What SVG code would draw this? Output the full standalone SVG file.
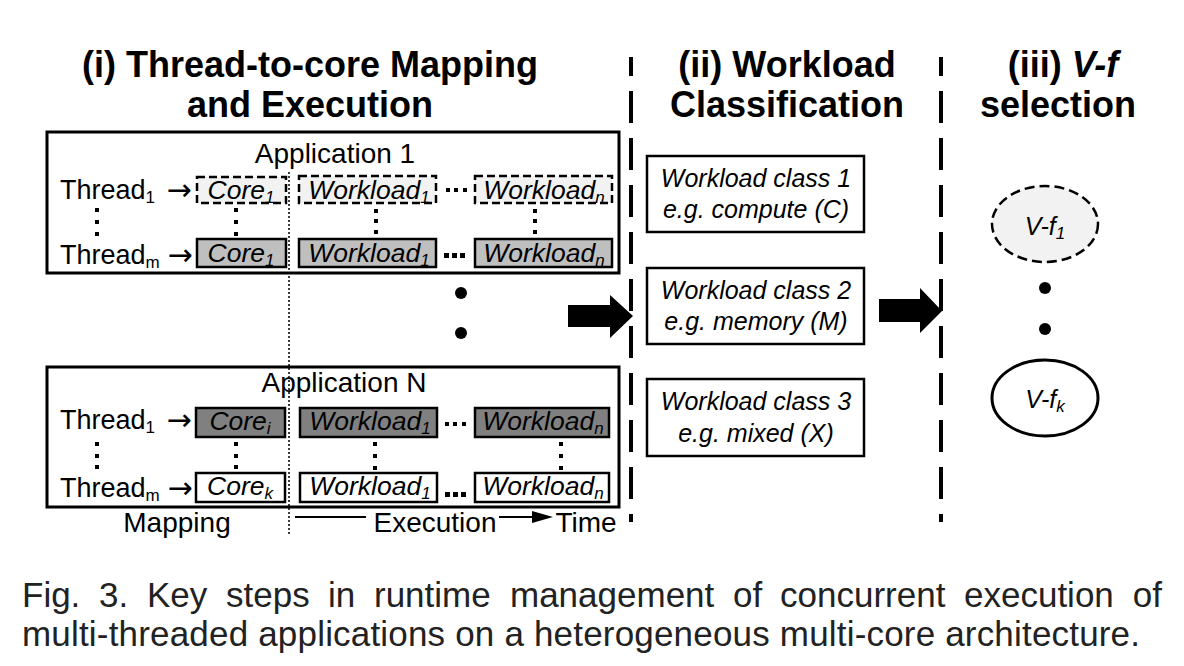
<svg xmlns="http://www.w3.org/2000/svg" width="1184" height="666" viewBox="0 0 1184 666">
<style>
text{font-family:"Liberation Sans",Arial,sans-serif;fill:#000}
.title{font-size:36px;font-weight:bold;text-anchor:middle}
.lbl{font-size:27px}
.arr{font-family:"DejaVu Sans",sans-serif;font-size:30px;text-anchor:middle}
.ax{font-size:28px;text-anchor:middle}
.app{font-size:28px;text-anchor:middle}
.it{font-size:26.5px;font-style:italic;text-anchor:middle}
.ct{font-size:25px;font-style:italic;text-anchor:middle}
.cap{font-size:35px;fill:#222}
.sub{font-size:17px}
.appbox{fill:#fff;stroke:#000;stroke-width:3}
.dash{fill:#f2f2f2;stroke:#000;stroke-width:2.5;stroke-dasharray:8 4}
.light{fill:#bfbfbf;stroke:#000;stroke-width:2.5}
.dark{fill:#808080;stroke:#000;stroke-width:2.5}
.white{fill:#fff;stroke:#000;stroke-width:2.5}
.cls{fill:#fff;stroke:#000;stroke-width:2.5}
.sep{stroke:#000;stroke-width:4;stroke-dasharray:32 15;fill:none}
.dot{fill:#000}
</style>
<rect width="1184" height="666" fill="#fff"/>

<!-- titles -->
<g id="titles">
<text class="title" x="310" y="77">(i) Thread-to-core Mapping</text>
<text class="title" x="310" y="117">and Execution</text>
<text class="title" x="787" y="77">(ii) Workload</text>
<text class="title" x="787" y="117">Classification</text>
<text class="title" x="1063" y="77">(iii) <tspan font-style="italic">V-f</tspan></text>
<text class="title" x="1058" y="117">selection</text>
</g>

<!-- Application 1 -->
<g id="app1">
<rect class="appbox" x="47" y="132" width="572" height="141"/>
<text class="app" x="335" y="163">Application 1</text>
<text class="lbl" x="60" y="199">Thread<tspan class="sub" dy="4">1</tspan></text>
<text class="arr" x="179" y="200">→</text>
<text class="lbl" x="60" y="264">Thread<tspan class="sub" dy="4">m</tspan></text>
<text class="arr" x="180" y="265">→</text>
<g class="dot"><rect x="95" y="208" width="4" height="4"/><rect x="95" y="220" width="4" height="4"/><rect x="95" y="232" width="4" height="4"/></g>
</g>
<g id="app1-core1-dashed"><rect class="dash" x="197" y="177" width="89" height="26"/><text class="it" x="241" y="199">Core<tspan class="sub" dy="4">1</tspan></text></g>
<g id="app1-core1"><rect class="light" x="197" y="239" width="89" height="28"/><text class="it" x="241" y="262">Core<tspan class="sub" dy="4">1</tspan></text></g>
<g id="app1-w1-dashed"><rect class="dash" x="299" y="176" width="137" height="27"/><text class="it" x="369" y="199">Workload<tspan class="sub" dy="4">1</tspan></text></g>
<g id="app1-wn-dashed"><rect class="dash" x="475" y="176" width="137" height="27"/><text class="it" x="544" y="199">Workload<tspan class="sub" dy="4">n</tspan></text></g>
<g id="app1-w1"><rect class="light" x="299" y="239" width="137" height="28"/><text class="it" x="369" y="262">Workload<tspan class="sub" dy="4">1</tspan></text></g>
<g id="app1-wn"><rect class="light" x="475" y="239" width="137" height="28"/><text class="it" x="544" y="262">Workload<tspan class="sub" dy="4">n</tspan></text></g>
<g id="app1-dots" class="dot">
<rect x="234" y="208" width="4" height="4"/><rect x="234" y="220" width="4" height="4"/><rect x="234" y="232" width="4" height="4"/>
<rect x="374" y="209" width="4" height="4"/><rect x="374" y="219" width="4" height="4"/><rect x="374" y="230" width="4" height="4"/>
<rect x="533" y="209" width="4" height="4"/><rect x="533" y="219" width="4" height="4"/><rect x="533" y="230" width="4" height="4"/>
<rect x="446" y="188" width="4" height="4"/><rect x="454" y="188" width="4" height="4"/><rect x="463" y="188" width="4" height="4"/>
<rect x="444" y="253" width="5" height="5"/><rect x="452" y="253" width="5" height="5"/><rect x="460" y="253" width="5" height="5"/>
</g>

<g id="apps-ellipsis" class="dot"><circle cx="461" cy="293" r="6"/><circle cx="461" cy="333" r="6"/></g>

<!-- Application N -->
<g id="appN">
<rect class="appbox" x="47" y="367" width="572" height="140"/>
<text class="app" x="344" y="392">Application N</text>
<text class="lbl" x="60" y="429">Thread<tspan class="sub" dy="4">1</tspan></text>
<text class="arr" x="179" y="430">→</text>
<text class="lbl" x="60" y="497">Thread<tspan class="sub" dy="4">m</tspan></text>
<text class="arr" x="180" y="498">→</text>
<g class="dot"><rect x="95" y="442" width="4" height="4"/><rect x="95" y="454" width="4" height="4"/><rect x="95" y="465" width="4" height="4"/></g>
</g>
<g id="appN-corei"><rect class="dark" x="196" y="408" width="89" height="29"/><text class="it" x="240" y="430">Core<tspan class="sub" dy="4">i</tspan></text></g>
<g id="appN-corek"><rect class="white" x="196" y="473" width="89" height="29"/><text class="it" x="240" y="495">Core<tspan class="sub" dy="4">k</tspan></text></g>
<g id="appN-w1-dark"><rect class="dark" x="300" y="408" width="137" height="29"/><text class="it" x="370" y="430">Workload<tspan class="sub" dy="4">1</tspan></text></g>
<g id="appN-wn-dark"><rect class="dark" x="475" y="408" width="134" height="29"/><text class="it" x="543" y="430">Workload<tspan class="sub" dy="4">n</tspan></text></g>
<g id="appN-w1"><rect class="white" x="300" y="473" width="137" height="29"/><text class="it" x="370" y="495">Workload<tspan class="sub" dy="4">1</tspan></text></g>
<g id="appN-wn"><rect class="white" x="475" y="473" width="134" height="29"/><text class="it" x="543" y="495">Workload<tspan class="sub" dy="4">n</tspan></text></g>
<g id="appN-dots" class="dot">
<rect x="234" y="442" width="4" height="4"/><rect x="234" y="454" width="4" height="4"/><rect x="234" y="465" width="4" height="4"/>
<rect x="373" y="442" width="4" height="4"/><rect x="373" y="454" width="4" height="4"/><rect x="373" y="466" width="4" height="4"/>
<rect x="559" y="442" width="4" height="4"/><rect x="559" y="454" width="4" height="4"/><rect x="559" y="466" width="4" height="4"/>
<rect x="445" y="422" width="4" height="4"/><rect x="453" y="422" width="4" height="4"/><rect x="462" y="422" width="4" height="4"/>
<rect x="445" y="492" width="5" height="5"/><rect x="453" y="492" width="5" height="5"/><rect x="461" y="492" width="5" height="5"/>
</g>

<g id="axis-labels">
<text class="ax" x="177" y="532">Mapping</text>
<text class="ax" x="435" y="532">Execution</text>
<text class="ax" x="586" y="532">Time</text>
</g>

<!-- Workload classes -->
<g id="class1"><rect class="cls" x="647" y="156" width="217" height="76"/><text class="ct" x="756" y="187">Workload class 1</text><text class="ct" x="756" y="218">e.g. compute (C)</text></g>
<g id="class2"><rect class="cls" x="647" y="268" width="217" height="76"/><text class="ct" x="756" y="299">Workload class 2</text><text class="ct" x="756" y="330">e.g. memory (M)</text></g>
<g id="class3"><rect class="cls" x="647" y="379" width="217" height="77"/><text class="ct" x="756" y="410">Workload class 3</text><text class="ct" x="756" y="442">e.g. mixed (X)</text></g>

<!-- V-f -->
<g id="vf1"><ellipse cx="1045" cy="224" rx="53" ry="38" fill="#f2f2f2" stroke="#000" stroke-width="2.5" stroke-dasharray="10 5"/><text class="ct" x="1045" y="235">V-f<tspan class="sub" dy="4">1</tspan></text></g>
<g id="vf-dots" class="dot"><circle cx="1045" cy="288" r="6"/><circle cx="1045" cy="329" r="6"/></g>
<g id="vfk"><ellipse cx="1045" cy="398" rx="53" ry="38" fill="#fff" stroke="#000" stroke-width="3"/><text class="ct" x="1045" y="408">V-f<tspan class="sub" dy="4">k</tspan></text></g>

<!-- connectors -->
<g id="connectors">
<line x1="631" y1="57" x2="631" y2="522" class="sep" stroke-dashoffset="13"/>
<line x1="941" y1="57" x2="941" y2="522" class="sep" stroke-dashoffset="13"/>
<line x1="289" y1="172" x2="289" y2="535" stroke="#000" stroke-width="1.5" stroke-dasharray="2 2"/>
<line x1="295" y1="517" x2="366" y2="517" stroke="#000" stroke-width="2"/>
<line x1="499" y1="517" x2="533" y2="517" stroke="#000" stroke-width="2"/>
<path d="M532,511 L553,517 L532,523 Z" fill="#000"/>
<path d="M568,305 L610,305 L610,295 L633,316 L610,338 L610,327 L568,327 Z" fill="#000"/>
<path d="M879,299 L920,299 L920,288 L942,311 L920,333 L920,322 L879,322 Z" fill="#000"/>
</g>

<!-- caption -->
<g id="caption">
<text class="cap" x="22" y="607">Fig.</text>
<text class="cap" x="99" y="607">3.</text>
<text class="cap" x="147" y="607">Key</text>
<text class="cap" x="226" y="607">steps</text>
<text class="cap" x="328" y="607">in</text>
<text class="cap" x="374" y="607">runtime</text>
<text class="cap" x="510" y="607">management</text>
<text class="cap" x="733" y="607">of</text>
<text class="cap" x="780" y="607">concurrent</text>
<text class="cap" x="964" y="607">execution</text>
<text class="cap" x="1162" y="607" text-anchor="end">of</text>
<text class="cap" x="22" y="646" textLength="1118" lengthAdjust="spacing">multi-threaded applications on a heterogeneous multi-core architecture.</text>
</g>
</svg>
